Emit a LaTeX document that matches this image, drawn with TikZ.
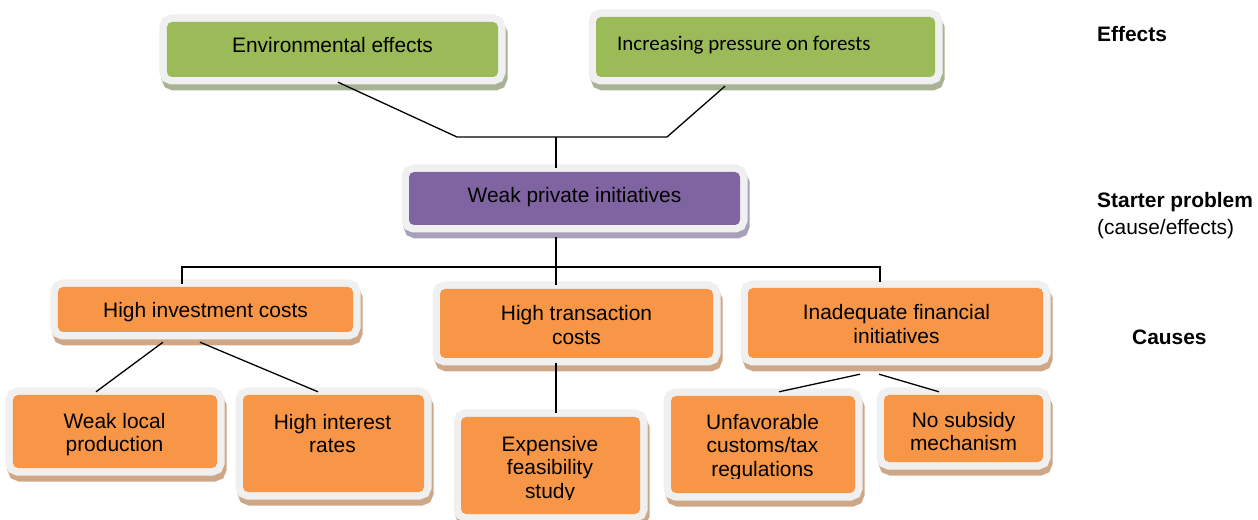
\documentclass[tikz,border=0pt]{standalone}
\usepackage{fontspec}
\setmainfont{Liberation Sans}
\newfontfamily\calibrifont{Carlito}
\usetikzlibrary{calc,shadows}

\definecolor{leaf}{RGB}{155,187,89}
\definecolor{plum}{RGB}{128,100,162}
\definecolor{tang}{RGB}{247,150,70}
\definecolor{framegray}{RGB}{240,240,240}
\definecolor{leafshade}{RGB}{168,178,148}
\definecolor{plumshade}{RGB}{168,160,184}
\definecolor{tangshade}{RGB}{206,168,134}

\tikzset{
  card/.style 2 args={rounded corners=5bp, inner sep=0pt, fill=#1,
    general shadow={shadow xshift=2bp, shadow yshift=-6bp, draw=#2, fill=#2, line width=15bp},
    preaction={draw=framegray, line width=15bp}},
  greencard/.style={card={leaf}{leafshade}},
  purplecard/.style={card={plum}{plumshade}},
  orangecard/.style={card={tang}{tangshade}},
  lbl/.style={anchor=base, inner sep=0pt, font=\fontsize{21}{24}\selectfont},
  link/.style={draw=black, line width=1.3bp},
}

\newcommand{\lines}[1]{\begin{tabular}[t]{@{}c@{}}#1\end{tabular}}

\begin{document}
\begin{tikzpicture}[x=1bp, y=-1bp]
\useasboundingbox (0,0) rectangle (1258,520);

% effects
\node[greencard, minimum width=331bp, minimum height=55bp] (env) at (332.5,49.5) {};
\node[greencard, minimum width=339bp, minimum height=60bp] (press) at (765.5,47) {};
\node[lbl] (env-t) at (332.5,53) {Environmental effects};
\node[lbl, anchor=base west, font=\calibrifont\fontsize{21}{24}\selectfont] (press-t) at (617,51) {Increasing pressure on forests};

% starter problem
\node[purplecard, minimum width=331bp, minimum height=53bp] (weak) at (574.5,198.5) {};
\node[lbl] (weak-t) at (574.5,203) {Weak private initiatives};

% causes
\node[orangecard, minimum width=295bp, minimum height=45bp] (hic) at (205.5,309.5) {};
\node[orangecard, minimum width=273bp, minimum height=69bp] (htc) at (576.5,323.5) {};
\node[orangecard, minimum width=295bp, minimum height=70bp] (ifi) at (895.5,323) {};
\node[lbl] (hic-t) at (205.5,318) {High investment costs};
\node[lbl] (htc-t) at (576.5,321) {\lines{High transaction\\costs}};
\node[lbl] (ifi-t) at (896.5,320) {\lines{Inadequate financial\\initiatives}};

% sub-causes
\node[orangecard, minimum width=204bp, minimum height=73bp] (wlp) at (115,431.5) {};
\node[orangecard, minimum width=181bp, minimum height=97bp] (hir) at (333.5,443.5) {};
\node[orangecard, minimum width=179bp, minimum height=97bp] (efs) at (550.5,465.5) {};
\node[orangecard, minimum width=184bp, minimum height=97bp] (uct) at (763,444.5) {};
\node[orangecard, minimum width=159bp, minimum height=67bp] (nsm) at (963.5,428.5) {};
\node[lbl] (wlp-t) at (114.5,428) {\lines{Weak local\\production}};
\node[lbl] (hir-t) at (332.5,429) {\lines{High interest\\rates}};
\begin{scope}
  \clip (440,400) rectangle (660,499.5);
  \node[lbl] (efs-t) at (550,451) {\lines{Expensive\\feasibility\\study}};
\end{scope}
\begin{scope}
  \clip (660,400) rectangle (870,478.3);
  \node[lbl] (uct-t) at (762.5,429) {\lines{Unfavorable\\customs/tax\\regulations}};
\end{scope}
\begin{scope}
  \clip (870,400) rectangle (1055,450.8);
  \node[lbl] (nsm-t) at (963.5,427) {\lines{No subsidy\\mechanism}};
\end{scope}

% level captions
\node[lbl, anchor=base west] (cap-eff) at (1097,42) {\bfseries Effects};
\node[lbl, anchor=base west] (cap-start) at (1097,208) {\bfseries Starter problem};
\node[lbl, anchor=base west] (cap-ce) at (1097,235) {(cause/effects)};
\node[lbl, anchor=base west] (cap-cause) at (1132,345) {\bfseries Causes};

% connectors between effects and the starter problem
\coordinate (jtl) at (457,137);
\coordinate (jtm) at (556,137);
\coordinate (jtr) at (667,137);
\draw[link] ($(env.south)+(5.5,5)$) -- (jtl) -- (jtr) -- ($(press.south)+(-40.5,9)$);
\draw[link] (jtm) -- ($(weak.north -| jtm)+(0,-4)$);

% connectors between the starter problem and the causes
\coordinate (jbl) at (182,267);
\coordinate (jbm) at (556,267);
\coordinate (jbr) at (880,267);
\draw[link] ($(weak.south -| jbm)+(0,12)$) -- (jbm);
\draw[link] ($(hic.north -| jbl)+(0,-3)$) -- (jbl) -- (jbr) -- ($(ifi.north -| jbr)+(0,-6)$);
\draw[link] (jbm) -- ($(htc.north -| jbm)+(0,-4)$);

% connectors to the sub-causes
\draw[link] ($(hic.south)+(-42.5,10)$) -- ($(wlp.north)+(-19,-3)$);
\draw[link] ($(hic.south)+(-5.5,10)$) -- ($(hir.north)+(-15.5,-3)$);
\draw[link] ($(htc.south -| jbm)+(0,5)$) -- ($(efs.north -| jbm)+(0,-4)$);
\draw[link] ($(ifi.south)+(-35.5,16)$) -- ($(uct.north)+(16,-4)$);
\draw[link] ($(ifi.south)+(-16.5,16)$) -- ($(nsm.north)+(-24.5,-3)$);
\end{tikzpicture}
\end{document}
